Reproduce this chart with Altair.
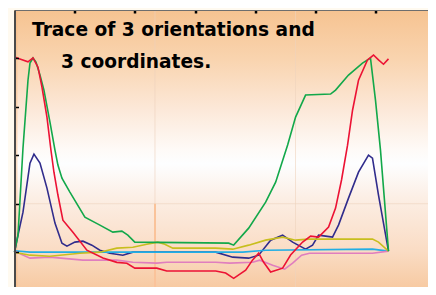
import altair as alt
import pandas as pd

# ---------------- data ----------------
green_t = [0, 0.58, 1.41, 2.24, 2.57, 3.07, 3.57, 4.23, 4.89, 5.89, 6.72, 7.21, 7.88, 9.20, 11.69,
           14.18, 16.33, 17.83, 18.82, 19.98, 35.57, 36.40, 38.89, 41.71, 43.37, 45.36, 46.68,
           48.34, 52.49, 53.32, 55.47, 57.79, 59.12, 59.95, 60.78, 61.44, 62.11]
green_v = [0, 3.5, 21.5, 35.5, 39.05, 40.08, 39.26, 36.57, 33.47, 26.86, 21.07, 17.98, 15.29, 12.40, 7.23,
           5.58, 4.13, 4.34, 3.51, 2.07, 1.86, 1.45, 4.96, 10.33, 14.46, 22.11, 27.89,
           32.44, 32.64, 33.47, 36.57, 39.05, 40.08, 31.40, 21.07, 10.74, 0.21]

red_t = [0, 0.9, 2.24, 3.07, 3.9, 4.56, 5.39, 6.05, 6.55, 7.21, 8.04, 9.70, 12.02, 14.68, 17.0, 18.66,
         19.98, 21.97, 23.63, 25.29, 33.42, 35.07, 36.40, 38.39, 39.55, 40.55, 41.38, 42.54, 44.53,
         45.85, 47.85, 49.17, 50.50, 52.16, 53.32, 54.31, 55.31, 56.14, 57.13, 58.62, 59.62, 60.45,
         61.28, 62.11]
red_v = [40.3, 39.9, 39.3, 40.1, 38.2, 34.1, 27.9, 21.1, 16.5, 11.8, 6.6, 4.1, 0.4, -1.2, -2.1, -2.3,
         -3.3, -3.3, -3.3, -3.9, -3.9, -4.3, -5.4, -3.7, -1.6, -0.2, -2.1, -4.1, -3.3,
         -0.6, 2.1, 3.3, 3.1, 5.2, 9.1, 14.9, 22.1, 29.3, 35.5, 39.7, 40.7, 39.7,
         38.8, 39.9]

navy_t = [0, 0.58, 1.41, 2.57, 3.23, 4.23, 5.39, 6.72, 7.88, 8.71, 10.03, 11.36, 12.85, 14.18, 15.84,
          17.99, 19.65, 24.63, 33.42, 36.24, 38.89, 40.55, 42.54, 44.53, 46.19, 48.34, 49.50, 50.50,
          51.66, 52.82, 53.81, 55.47, 57.13, 58.79, 59.45, 60.45, 62.11]
navy_v = [0, 3.51, 8.26, 18.39, 20.25, 18.39, 13.22, 6.0, 1.86, 1.24, 2.07, 2.27, 1.45, 0.41, -0.21,
          -0.62, 0, 0, 0, -1.03, -1.24, -0.62, 2.48, 3.51, 2.07, 0.62, 1.45, 3.51,
          3.31, 3.10, 5.58, 11.16, 16.53, 20.04, 19.42, 11.78, 0.21]

yellow_t = [0, 2.57, 5.89, 10.86, 14.18, 17.0, 19.65, 21.97, 23.80, 24.96, 26.29, 33.42, 36.24, 38.89,
            41.71, 44.53, 46.68, 48.84, 59.45, 60.45, 62.11]
yellow_v = [0, -0.62, -0.83, -0.21, 0, 0.83, 1.03, 1.65, 2.07, 1.65, 0.83, 0.83, 0.62, 1.45,
            2.48, 3.10, 2.48, 2.69, 2.69, 2.07, 0.21]

cyan_t = [0, 2.57, 33.42, 37.89, 41.71, 59.45, 62.11]
cyan_v = [0.3, 0, 0, 0, 0.41, 0.62, 0.21]

pink_t = [0, 2.57, 5.89, 11.36, 17.0, 19.65, 23.63, 25.29, 33.42, 35.74, 39.55, 40.72, 42.87, 44.86,
          46.19, 47.68, 49.0, 59.45, 62.11]
pink_v = [0.21, -1.24, -1.03, -1.65, -1.65, -2.07, -2.27, -2.07, -2.07, -2.27, -2.07, -1.65, -2.69,
          -3.51, -2.27, -0.62, -0.21, -0.21, 0.21]

x_ticks = [10, 20, 30, 40, 50, 60]
y_ticks = [0, 10, 20, 30, 40]
cursor_t = [23.33]
grid_t = [23.33, 46.67]
grid_v = [10]
title_lines = ["Trace of 3 orientations and", "3 coordinates."]

# ---------------- chart ----------------
W = 421.5
H = 290.6
PAD_L, PAD_T = 6.5, 2
SVG_W, SVG_H = 420, 279
xs = alt.Scale(domain=[0, 70], nice=False, zero=False)
ys = alt.Scale(domain=[-10, 50], nice=False, zero=False)

bg_grad = alt.Gradient(
    gradient="linear", x1=0, x2=0, y1=0, y2=1,
    stops=[
        alt.GradientStop(color="#F6C391", offset=0),
        alt.GradientStop(color="#F9D4AF", offset=0.17),
        alt.GradientStop(color="#FCE8D8", offset=0.34),
        alt.GradientStop(color="#FEFAF7", offset=0.48),
        alt.GradientStop(color="#FDFEFF", offset=0.53),
        alt.GradientStop(color="#FCEEE4", offset=0.65),
        alt.GradientStop(color="#FADCC4", offset=0.83),
        alt.GradientStop(color="#F6C496", offset=1),
    ],
)
one = pd.DataFrame({"a": [0]})
background = alt.Chart(one).mark_rect(fill=bg_grad).encode(
    x=alt.value(0), x2=alt.value(W), y=alt.value(0), y2=alt.value(H)
)
strip_grad = alt.Gradient(
    gradient="linear", x1=0, x2=1, y1=0, y2=0,
    stops=[
        alt.GradientStop(color="rgba(246,184,128,0.9)", offset=0),
        alt.GradientStop(color="rgba(246,184,128,0)", offset=1),
    ],
)
strip = alt.Chart(one).mark_rect(fill=strip_grad).encode(
    x=alt.value(0), x2=alt.value(4), y=alt.value(0), y2=alt.value(H)
)

vgrid = alt.Chart(pd.DataFrame({"t": grid_t})).mark_rule(
    color="#EFD2BC", strokeWidth=1, opacity=0.6
).encode(x=alt.X("t:Q", scale=xs, axis=None))
hgrid = alt.Chart(pd.DataFrame({"v": grid_v})).mark_rule(
    color="#EFD2BC", strokeWidth=1, opacity=0.6
).encode(y=alt.Y("v:Q", scale=ys, axis=None))
cursor = alt.Chart(pd.DataFrame({"t": cursor_t, "v": [10], "v2": [-10]})).mark_rule(
    color="#FAC39A", strokeWidth=2
).encode(x=alt.X("t:Q", scale=xs, axis=None), y=alt.Y("v:Q", scale=ys, axis=None), y2="v2:Q")


def series(ts, vs, color, xaxis=None, yaxis=None):
    d = pd.DataFrame({"t": ts, "v": vs, "o": list(range(len(ts)))})
    return alt.Chart(d).mark_line(color=color, strokeWidth=1.6).encode(
        x=alt.X("t:Q", scale=xs, axis=xaxis),
        y=alt.Y("v:Q", scale=ys, axis=yaxis),
        order="o:Q",
    )


top_axis = alt.Axis(orient="bottom", offset=-H, values=x_ticks, labels=False, title=None, grid=False,
                    tickSize=3, tickWidth=2.5, tickColor="black", domainColor="#6E6E6E", domainWidth=1.2,
                    zindex=1)
left_axis = alt.Axis(orient="right", offset=-W, values=y_ticks, labels=False, title=None, grid=False,
                     tickSize=4, tickWidth=1.5, tickColor="black", domainColor="#4A4A4A", domainWidth=2,
                     zindex=1)
right_axis = alt.Axis(orient="left", offset=-W, values=y_ticks, labels=False, title=None, grid=False,
                      tickSize=4, tickWidth=1.5, tickColor="black", domain=False, zindex=1)

l_cyan = series(cyan_t, cyan_v, "#22AEE4")
l_pink = series(pink_t, pink_v, "#E07EBE")
l_yellow = series(yellow_t, yellow_v, "#C8BE1E")
l_navy = series(navy_t, navy_v, "#302C8C", yaxis=right_axis)
l_green = series(green_t, green_v, "#12A84A", xaxis=top_axis)
l_red = series(red_t, red_v, "#EC1234", yaxis=left_axis)

text1 = alt.Chart(one).mark_text(
    text=title_lines[0], font="DejaVu Sans", fontWeight="bold", fontSize=18.6, color="black",
    align="left", baseline="alphabetic"
).encode(x=alt.value(17.5), y=alt.value(26))
text2 = alt.Chart(one).mark_text(
    text=title_lines[1], font="DejaVu Sans", fontWeight="bold", fontSize=18.6, color="black",
    align="left", baseline="alphabetic"
).encode(x=alt.value(46.5), y=alt.value(58))

chart = alt.layer(
    background, strip, vgrid, hgrid, cursor,
    l_navy, l_cyan, l_pink, l_yellow, l_green, l_red, text1, text2
).resolve_axis(x="independent", y="independent").properties(
    width=W, height=H, autosize="none",
    padding={"left": PAD_L, "top": PAD_T, "right": SVG_W - PAD_L - W, "bottom": SVG_H - PAD_T - H},
    background="#FFFAF0",
).configure_view(strokeOpacity=0)

chart.save("out.html", embed_options={"renderer": "svg", "actions": False})
